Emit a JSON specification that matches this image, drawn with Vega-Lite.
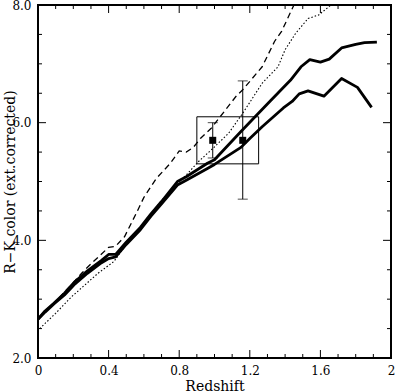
{
  "$schema": "https://vega.github.io/schema/vega-lite/v6.json",
  "autosize": {"type": "none"},
  "width": 353,
  "height": 353,
  "padding": {"left": 38, "top": 5, "right": 4, "bottom": 34},
  "background": "white",
  "config": {
    "view": {"stroke": "black", "strokeWidth": 2},
    "font": "DejaVu Serif",
    "axis": {"labelFont": "DejaVu Serif", "titleFont": "DejaVu Serif", "labelColor": "black", "titleColor": "black", "titleFontWeight": "normal", "grid": false, "domain": false, "ticks": false}
  },
  "datasets": {
    "lines": [
      {"s": "A", "z": 0.0, "c": 2.66}, {"s": "A", "z": 0.04, "c": 2.80}, {"s": "A", "z": 0.09, "c": 2.93}, {"s": "A", "z": 0.15, "c": 3.10}, {"s": "A", "z": 0.21, "c": 3.30}, {"s": "A", "z": 0.28, "c": 3.48}, {"s": "A", "z": 0.36, "c": 3.66}, {"s": "A", "z": 0.40, "c": 3.76}, {"s": "A", "z": 0.44, "c": 3.76}, {"s": "A", "z": 0.50, "c": 3.97}, {"s": "A", "z": 0.58, "c": 4.22}, {"s": "A", "z": 0.64, "c": 4.45}, {"s": "A", "z": 0.70, "c": 4.66}, {"s": "A", "z": 0.79, "c": 5.00}, {"s": "A", "z": 0.84, "c": 5.08}, {"s": "A", "z": 0.96, "c": 5.31}, {"s": "A", "z": 1.00, "c": 5.37}, {"s": "A", "z": 1.15, "c": 5.85}, {"s": "A", "z": 1.23, "c": 6.10}, {"s": "A", "z": 1.32, "c": 6.38}, {"s": "A", "z": 1.43, "c": 6.72}, {"s": "A", "z": 1.49, "c": 6.95}, {"s": "A", "z": 1.54, "c": 7.07}, {"s": "A", "z": 1.60, "c": 7.03}, {"s": "A", "z": 1.65, "c": 7.08}, {"s": "A", "z": 1.72, "c": 7.27}, {"s": "A", "z": 1.80, "c": 7.33}, {"s": "A", "z": 1.85, "c": 7.36}, {"s": "A", "z": 1.92, "c": 7.37},
      {"s": "B", "z": 0.0, "c": 2.66}, {"s": "B", "z": 0.04, "c": 2.78}, {"s": "B", "z": 0.09, "c": 2.92}, {"s": "B", "z": 0.15, "c": 3.07}, {"s": "B", "z": 0.21, "c": 3.26}, {"s": "B", "z": 0.28, "c": 3.44}, {"s": "B", "z": 0.36, "c": 3.62}, {"s": "B", "z": 0.40, "c": 3.69}, {"s": "B", "z": 0.44, "c": 3.72}, {"s": "B", "z": 0.50, "c": 3.93}, {"s": "B", "z": 0.58, "c": 4.18}, {"s": "B", "z": 0.64, "c": 4.41}, {"s": "B", "z": 0.70, "c": 4.62}, {"s": "B", "z": 0.79, "c": 4.94}, {"s": "B", "z": 0.84, "c": 5.02}, {"s": "B", "z": 0.96, "c": 5.22}, {"s": "B", "z": 1.00, "c": 5.29}, {"s": "B", "z": 1.15, "c": 5.58}, {"s": "B", "z": 1.20, "c": 5.73}, {"s": "B", "z": 1.27, "c": 5.93}, {"s": "B", "z": 1.39, "c": 6.25}, {"s": "B", "z": 1.44, "c": 6.36}, {"s": "B", "z": 1.48, "c": 6.49}, {"s": "B", "z": 1.53, "c": 6.54}, {"s": "B", "z": 1.62, "c": 6.45}, {"s": "B", "z": 1.72, "c": 6.75}, {"s": "B", "z": 1.81, "c": 6.60}, {"s": "B", "z": 1.89, "c": 6.26},
      {"s": "C", "z": 0.0, "c": 2.66}, {"s": "C", "z": 0.10, "c": 2.96}, {"s": "C", "z": 0.20, "c": 3.28}, {"s": "C", "z": 0.25, "c": 3.45}, {"s": "C", "z": 0.30, "c": 3.60}, {"s": "C", "z": 0.40, "c": 3.88}, {"s": "C", "z": 0.44, "c": 3.90}, {"s": "C", "z": 0.49, "c": 4.06}, {"s": "C", "z": 0.52, "c": 4.24}, {"s": "C", "z": 0.56, "c": 4.48}, {"s": "C", "z": 0.60, "c": 4.73}, {"s": "C", "z": 0.67, "c": 5.05}, {"s": "C", "z": 0.75, "c": 5.31}, {"s": "C", "z": 0.80, "c": 5.52}, {"s": "C", "z": 0.84, "c": 5.50}, {"s": "C", "z": 0.88, "c": 5.58}, {"s": "C", "z": 0.92, "c": 5.73}, {"s": "C", "z": 0.98, "c": 5.90}, {"s": "C", "z": 1.12, "c": 6.44}, {"s": "C", "z": 1.16, "c": 6.56}, {"s": "C", "z": 1.27, "c": 6.95}, {"s": "C", "z": 1.34, "c": 7.38}, {"s": "C", "z": 1.38, "c": 7.55}, {"s": "C", "z": 1.45, "c": 8.0},
      {"s": "D", "z": 0.01, "c": 2.50}, {"s": "D", "z": 0.10, "c": 2.76}, {"s": "D", "z": 0.19, "c": 3.04}, {"s": "D", "z": 0.34, "c": 3.44}, {"s": "D", "z": 0.43, "c": 3.64}, {"s": "D", "z": 0.50, "c": 3.93}, {"s": "D", "z": 0.58, "c": 4.20}, {"s": "D", "z": 0.70, "c": 4.68}, {"s": "D", "z": 0.84, "c": 5.11}, {"s": "D", "z": 0.91, "c": 5.34}, {"s": "D", "z": 0.99, "c": 5.56}, {"s": "D", "z": 1.08, "c": 5.82}, {"s": "D", "z": 1.16, "c": 6.16}, {"s": "D", "z": 1.27, "c": 6.67}, {"s": "D", "z": 1.36, "c": 6.95}, {"s": "D", "z": 1.40, "c": 7.24}, {"s": "D", "z": 1.46, "c": 7.52}, {"s": "D", "z": 1.53, "c": 7.77}, {"s": "D", "z": 1.59, "c": 7.83}, {"s": "D", "z": 1.66, "c": 8.0}
    ],
    "pts": [
      {"z": 0.99, "c": 5.70, "lo": 5.40, "hi": 6.00},
      {"z": 1.16, "c": 5.70, "lo": 4.70, "hi": 6.71}
    ],
    "box": [
      {"z1": 0.90, "z2": 1.25, "c1": 5.30, "c2": 6.10}
    ],
    "xticks": [
      {"z": 0.1, "c": 2, "m": "minor"}, {"z": 0.2, "c": 2, "m": "minor"}, {"z": 0.3, "c": 2, "m": "minor"}, {"z": 0.4, "c": 2, "m": "major"}, {"z": 0.5, "c": 2, "m": "minor"}, {"z": 0.6, "c": 2, "m": "minor"}, {"z": 0.7, "c": 2, "m": "minor"}, {"z": 0.8, "c": 2, "m": "major"}, {"z": 0.9, "c": 2, "m": "minor"}, {"z": 1.0, "c": 2, "m": "minor"}, {"z": 1.1, "c": 2, "m": "minor"}, {"z": 1.2, "c": 2, "m": "major"}, {"z": 1.3, "c": 2, "m": "minor"}, {"z": 1.4, "c": 2, "m": "minor"}, {"z": 1.5, "c": 2, "m": "minor"}, {"z": 1.6, "c": 2, "m": "major"}, {"z": 1.7, "c": 2, "m": "minor"}, {"z": 1.8, "c": 2, "m": "minor"}, {"z": 1.9, "c": 2, "m": "minor"},
      {"z": 0.1, "c": 8, "m": "minor"}, {"z": 0.2, "c": 8, "m": "minor"}, {"z": 0.3, "c": 8, "m": "minor"}, {"z": 0.4, "c": 8, "m": "major"}, {"z": 0.5, "c": 8, "m": "minor"}, {"z": 0.6, "c": 8, "m": "minor"}, {"z": 0.7, "c": 8, "m": "minor"}, {"z": 0.8, "c": 8, "m": "major"}, {"z": 0.9, "c": 8, "m": "minor"}, {"z": 1.0, "c": 8, "m": "minor"}, {"z": 1.1, "c": 8, "m": "minor"}, {"z": 1.2, "c": 8, "m": "major"}, {"z": 1.3, "c": 8, "m": "minor"}, {"z": 1.4, "c": 8, "m": "minor"}, {"z": 1.5, "c": 8, "m": "minor"}, {"z": 1.6, "c": 8, "m": "major"}, {"z": 1.7, "c": 8, "m": "minor"}, {"z": 1.8, "c": 8, "m": "minor"}, {"z": 1.9, "c": 8, "m": "minor"}
    ],
    "yticks": [
      {"z": 0, "c": 2.5, "m": "minor"}, {"z": 0, "c": 3, "m": "minor"}, {"z": 0, "c": 3.5, "m": "minor"}, {"z": 0, "c": 4, "m": "major"}, {"z": 0, "c": 4.5, "m": "minor"}, {"z": 0, "c": 5, "m": "minor"}, {"z": 0, "c": 5.5, "m": "minor"}, {"z": 0, "c": 6, "m": "major"}, {"z": 0, "c": 6.5, "m": "minor"}, {"z": 0, "c": 7, "m": "minor"}, {"z": 0, "c": 7.5, "m": "minor"},
      {"z": 2, "c": 2.5, "m": "minor"}, {"z": 2, "c": 3, "m": "minor"}, {"z": 2, "c": 3.5, "m": "minor"}, {"z": 2, "c": 4, "m": "major"}, {"z": 2, "c": 4.5, "m": "minor"}, {"z": 2, "c": 5, "m": "minor"}, {"z": 2, "c": 5.5, "m": "minor"}, {"z": 2, "c": 6, "m": "major"}, {"z": 2, "c": 6.5, "m": "minor"}, {"z": 2, "c": 7, "m": "minor"}, {"z": 2, "c": 7.5, "m": "minor"}
    ]
  },
  "layer": [
    {
      "data": {"name": "lines"},
      "transform": [{"filter": "datum.s === 'A'"}],
      "mark": {"type": "line", "color": "black", "strokeWidth": 2.8, "strokeJoin": "round"},
      "encoding": {
        "x": {"field": "z", "type": "quantitative", "scale": {"domain": [0, 2], "nice": false, "zero": false},
          "axis": {"orient": "bottom", "values": [0, 0.4, 0.8, 1.2, 1.6, 2],
            "labelExpr": "datum.value === 0 ? '0' : datum.value === 2 ? '2' : format(datum.value, '.1f')",
            "labelFlush": false, "labelOverlap": false, "labelFontSize": 12, "labelPadding": 7, "title": "Redshift", "titleFontSize": 14, "titleY": 28, "titleBaseline": "middle"}},
        "y": {"field": "c", "type": "quantitative", "scale": {"domain": [2, 8], "nice": false, "zero": false},
          "axis": {"orient": "left", "values": [2, 4, 6, 8],
            "labelOverlap": false, "labelFontSize": 12, "labelPadding": 7, "title": "R\u2212K color (ext.corrected)", "titleFontSize": 14, "titleX": -28, "titleBaseline": "middle"}}
      }
    },
    {
      "data": {"name": "lines"},
      "transform": [{"filter": "datum.s === 'B'"}],
      "mark": {"type": "line", "color": "black", "strokeWidth": 2.8, "strokeJoin": "round"},
      "encoding": {
        "x": {"field": "z", "type": "quantitative"},
        "y": {"field": "c", "type": "quantitative"}
      }
    },
    {
      "data": {"name": "lines"},
      "transform": [{"filter": "datum.s === 'C'"}],
      "mark": {"type": "line", "color": "black", "strokeWidth": 1.3, "strokeDash": [6, 4]},
      "encoding": {
        "x": {"field": "z", "type": "quantitative"},
        "y": {"field": "c", "type": "quantitative"}
      }
    },
    {
      "data": {"name": "lines"},
      "transform": [{"filter": "datum.s === 'D'"}],
      "mark": {"type": "line", "color": "black", "strokeWidth": 1.1, "strokeDash": [1.5, 2]},
      "encoding": {
        "x": {"field": "z", "type": "quantitative"},
        "y": {"field": "c", "type": "quantitative"}
      }
    },
    {
      "data": {"name": "box"},
      "mark": {"type": "rect", "fill": null, "fillOpacity": 0, "stroke": "black", "strokeWidth": 1},
      "encoding": {
        "x": {"field": "z1", "type": "quantitative"},
        "x2": {"field": "z2"},
        "y": {"field": "c1", "type": "quantitative"},
        "y2": {"field": "c2"}
      }
    },
    {
      "data": {"name": "pts"},
      "mark": {"type": "rule", "color": "black", "strokeWidth": 1},
      "encoding": {
        "x": {"field": "z", "type": "quantitative"},
        "y": {"field": "lo", "type": "quantitative"},
        "y2": {"field": "hi"}
      }
    },
    {
      "data": {"name": "pts"},
      "mark": {"type": "tick", "orient": "horizontal", "color": "black", "size": 10, "thickness": 1},
      "encoding": {
        "x": {"field": "z", "type": "quantitative"},
        "y": {"field": "lo", "type": "quantitative"}
      }
    },
    {
      "data": {"name": "pts"},
      "mark": {"type": "tick", "orient": "horizontal", "color": "black", "size": 10, "thickness": 1},
      "encoding": {
        "x": {"field": "z", "type": "quantitative"},
        "y": {"field": "hi", "type": "quantitative"}
      }
    },
    {
      "data": {"name": "pts"},
      "mark": {"type": "square", "color": "black", "filled": true, "opacity": 1, "size": 49},
      "encoding": {
        "x": {"field": "z", "type": "quantitative"},
        "y": {"field": "c", "type": "quantitative"}
      }
    },
    {
      "data": {"name": "xticks"},
      "mark": {"type": "tick", "orient": "vertical", "color": "black", "thickness": 1, "clip": true, "opacity": 1},
      "encoding": {
        "x": {"field": "z", "type": "quantitative"},
        "y": {"field": "c", "type": "quantitative"},
        "size": {"field": "m", "type": "nominal", "scale": {"domain": ["major", "minor"], "range": [16, 8]}, "legend": null}
      }
    },
    {
      "data": {"name": "yticks"},
      "mark": {"type": "tick", "orient": "horizontal", "color": "black", "thickness": 1, "clip": true, "opacity": 1},
      "encoding": {
        "x": {"field": "z", "type": "quantitative"},
        "y": {"field": "c", "type": "quantitative"},
        "size": {"field": "m", "type": "nominal", "scale": {"domain": ["major", "minor"], "range": [16, 8]}, "legend": null}
      }
    }
  ]
}
